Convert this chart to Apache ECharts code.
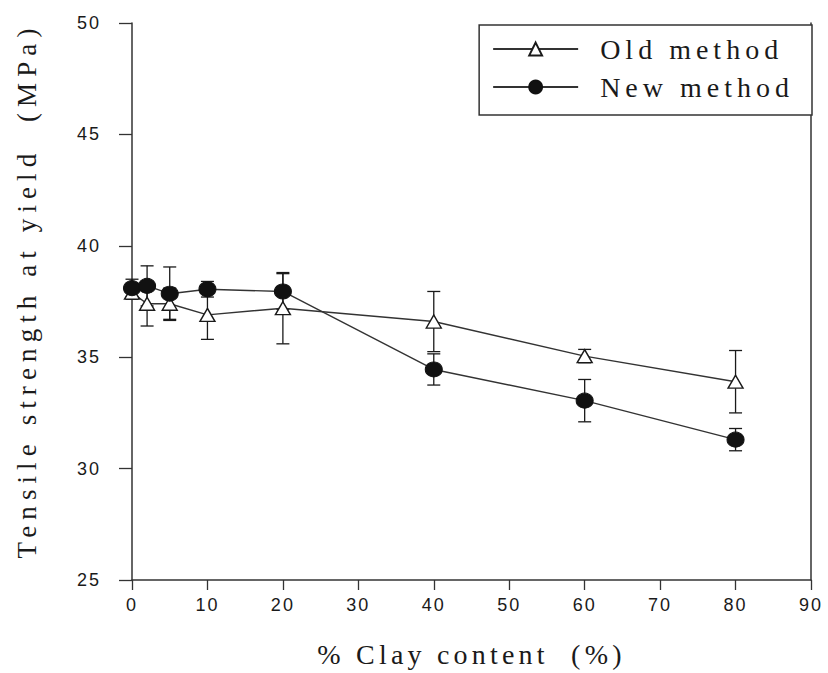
<!DOCTYPE html>
<html>
<head>
<meta charset="utf-8">
<title>Tensile strength at yield vs clay content</title>
<script src="https://cdn.jsdelivr.net/npm/echarts@6/dist/echarts.min.js"></script>
<style>
  html, body { margin: 0; padding: 0; background: #ffffff; }
  #chart { width: 828px; height: 673px; }
  #chart svg text { white-space: pre; }
</style>
</head>
<body>
<div id="chart"></div>
<script>
// Clay loading (%) of each sample
const clay = [0, 2, 5, 10, 20, 40, 60, 80];

// Old method: mean tensile strength at yield (MPa) and its error bar half-width
const oldMean = [37.9, 37.4, 37.4, 36.9, 37.2, 36.6, 35.05, 33.9];
const oldErr  = [0.3, 1.0, 0.7, 1.1, 1.6, 1.35, 0.3, 1.4];

// New method: mean tensile strength at yield (MPa) and its error bar half-width
const newMean = [38.1, 38.2, 37.85, 38.05, 37.95, 34.45, 33.05, 31.3];
const newErr  = [0.4, 0.9, 1.2, 0.35, 0.8, 0.7, 0.95, 0.5];

// Axis ranges and titles
const xRange = [0, 90, 10];
const yRange = [25, 50, 5];
const xTitle = '% Clay content  (%)';
const yTitle = 'Tensile strength at yield  (MPa)';
const seriesNames = ['Old method', 'New method'];

const INK = '#1a1a1a';
const LINE = '#333333';
const serif = '"Liberation Serif", "Times New Roman", serif';
const sans = '"Liberation Sans", Arial, sans-serif';

function errorBars(name, means, errs, z) {
  return {
    type: 'custom',
    name: name,
    z: z,
    silent: true,
    data: clay.map((c, i) => [c, means[i] - errs[i], means[i] + errs[i]]),
    encode: { x: 0, y: [1, 2] },
    renderItem: function (params, api) {
      const lo = api.coord([api.value(0), api.value(1)]);
      const hi = api.coord([api.value(0), api.value(2)]);
      const w = 6.5;
      const st = { stroke: INK, lineWidth: 1.3, fill: null };
      return {
        type: 'group',
        children: [
          { type: 'line', shape: { x1: lo[0], y1: lo[1], x2: hi[0], y2: hi[1] }, style: st },
          { type: 'line', shape: { x1: lo[0] - w, y1: lo[1], x2: lo[0] + w, y2: lo[1] }, style: st },
          { type: 'line', shape: { x1: hi[0] - w, y1: hi[1], x2: hi[0] + w, y2: hi[1] }, style: st }
        ]
      };
    }
  };
}

const chart = echarts.init(document.getElementById('chart'), null, { renderer: 'svg' });

chart.setOption({
  animation: false,
  backgroundColor: '#ffffff',
  grid: { left: 132, right: 17, top: 23, bottom: 90 },
  xAxis: {
    type: 'value',
    min: xRange[0], max: xRange[1], interval: xRange[2],
    name: xTitle,
    nameLocation: 'middle',
    nameGap: 60,
    nameTextStyle: { fontFamily: serif, fontSize: 28, color: INK },
    axisLine: { show: true, onZero: false, lineStyle: { color: LINE, width: 1.5 } },
    axisTick: { show: true, inside: false, length: 10, lineStyle: { color: LINE, width: 1.3 } },
    axisLabel: { fontFamily: sans, fontSize: 18, color: INK, margin: 16 },
    splitLine: { show: false }
  },
  yAxis: [
    {
      type: 'value',
      min: yRange[0], max: yRange[1], interval: yRange[2],
      name: yTitle,
      nameLocation: 'middle',
      nameGap: 92,
      nameTextStyle: { fontFamily: serif, fontSize: 27, color: INK, padding: [0, 0, 0, 22] },
      axisLine: { show: true, onZero: false, lineStyle: { color: LINE, width: 1.5 } },
      axisTick: { show: true, inside: false, length: 13, lineStyle: { color: LINE, width: 1.3 } },
      axisLabel: { fontFamily: sans, fontSize: 18, color: INK, margin: 31 },
      splitLine: { show: false }
    },
    {
      // right-hand frame line
      type: 'value', position: 'right',
      min: yRange[0], max: yRange[1], interval: yRange[2],
      axisLine: { show: true, onZero: false, lineStyle: { color: LINE, width: 1.5 } },
      axisTick: { show: false },
      axisLabel: { show: false },
      splitLine: { show: false }
    }
  ],
  legend: {
    data: seriesNames,
    orient: 'vertical',
    right: 16,
    top: 25,
    itemWidth: 85,
    itemHeight: 16,
    itemGap: 10,
    padding: [10, 68, 14, 13],
    borderColor: LINE,
    borderWidth: 1.5,
    backgroundColor: '#ffffff',
    selectedMode: false,
    textStyle: { fontFamily: serif, fontSize: 28, color: INK, padding: [0, 0, 0, 17] }
  },
  series: [
    errorBars('old-err', oldMean, oldErr, 1),
    errorBars('new-err', newMean, newErr, 1),
    {
      name: seriesNames[0],
      type: 'line',
      z: 3,
      data: clay.map((c, i) => [c, oldMean[i]]),
      symbol: 'triangle',
      symbolSize: [15, 13],
      showAllSymbol: true,
      lineStyle: { color: LINE, width: 1.4 },
      itemStyle: { color: '#ffffff', borderColor: INK, borderWidth: 1.4 }
    },
    {
      name: seriesNames[1],
      type: 'line',
      z: 4,
      data: clay.map((c, i) => [c, newMean[i]]),
      symbol: 'circle',
      symbolSize: [17, 15],
      showAllSymbol: true,
      lineStyle: { color: LINE, width: 1.4 },
      itemStyle: { color: '#111111', borderColor: '#111111', borderWidth: 1 }
    }
  ]
});

// Widen the letter spacing of the text, in the airy style of the printed figure
const spacing = {};
spacing[yTitle] = 6.1;
spacing[xTitle] = 4.2;
spacing[seriesNames[0]] = 5;
spacing[seriesNames[1]] = 5;

function applySpacing() {
  document.querySelectorAll('#chart svg text').forEach(function (t) {
    const s = t.textContent;
    const v = spacing.hasOwnProperty(s) ? spacing[s] : 2;
    t.style.letterSpacing = v + 'px';
  });
}
applySpacing();
chart.on('finished', applySpacing);
chart.on('rendered', applySpacing);
</script>
</body>
</html>
